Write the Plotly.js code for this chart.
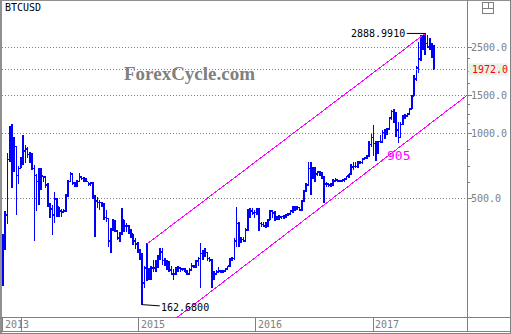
<!DOCTYPE html>
<html><head><meta charset="utf-8">
<script src="https://cdn.plot.ly/plotly-3.0.1.min.js"></script>
<style>
html,body{margin:0;padding:0;background:#fff;overflow:hidden}
#chart{width:511px;height:334px}
.ohlc path{shape-rendering:crispEdges}
.gridlayer path,.minor-gridlayer path,.shapelayer path,.scatterlayer path{shape-rendering:crispEdges}
</style></head><body><div id="chart"></div>
<script>
const symbol = 'BTCUSD';
const firstWeek = '2013-11-04';
const open = [200,300,420,760,1000,800,870,640,690,770,
830,850,800,800,690,640,600,560,635,630,
580,470,450,420,500,460,440,435,440,520,
600,650,590,590,600,630,620,620,600,585,
590,510,490,480,480,475,410,405,320,360,
390,355,330,345,400,375,375,360,345,320,
310,290,270,205,240,225,220,240,240,250,
272,285,260,250,255,235,225,225,238,240,
237,237,230,225,235,245,245,258,265,280,
285,283,265,262,230,225,230,232,232,233,
238,245,265,265,320,385,330,325,320,360,
430,440,430,432,450,385,380,375,372,400,
438,430,405,410,412,415,418,420,425,440,
450,455,455,445,490,540,580,690,660,670,
650,665,655,625,585,585,580,575,605,610,
605,600,610,615,637,650,700,705,705,740,
735,765,770,790,890,960,900,830,920,915,
1010,1000,1050,1180,1260,1230,1040,960,1100,1180,
1200,1230,1300,1490,1780,2000,2200,2500,2750,2600,
2500,2560,2500];
const high = [345,440,815,1083,1100,960,880,705,780,985,
885,870,818,810,716,650,690,690,640,635,
590,480,469,540,505,460,450,450,525,611,
665,655,600,611,655,635,630,625,600,595,
595,520,510,495,485,480,444,410,365,405,
400,360,352,455,400,385,380,362,345,330,
315,295,280,245,313,240,245,262,262,275,
296,296,268,262,258,245,238,242,245,242,
240,240,235,240,252,248,261,270,313,290,
296,285,270,265,232,235,242,235,235,240,
245,268,270,330,460,390,335,335,368,450,
452,452,444,455,455,392,392,390,405,444,
444,440,415,421,418,421,425,430,445,465,
465,465,460,494,550,590,735,740,700,700,
670,670,665,640,595,590,590,615,625,615,
612,612,620,640,650,720,740,740,750,745,
770,775,795,920,990,1095,920,925,985,1040,
1050,1065,1190,1283,1290,1250,1130,1130,1217,1230,
1245,1310,1510,1850,2050,2640,2830,2830,2888.991,2850,
2750,2600,2560];
const low = [198,290,384,740,560,665,421,585,690,716,
730,770,730,679,318,440,469,550,600,560,
460,410,341,385,412,412,412,430,435,510,
600,580,565,565,600,611,600,595,575,570,
500,333,455,444,460,399,390,300,280,355,
350,323,316,341,350,350,345,330,306,295,
280,262,162.68,195,210,212,212,230,230,240,
262,248,245,235,230,222,211,222,230,230,
232,230,223,223,235,240,240,245,195,261,
270,258,257,194,212,222,228,228,228,230,
235,242,258,261,300,300,312,316,316,355,
410,421,410,421,355,370,370,365,370,398,
410,395,398,399,405,405,410,415,420,430,
440,445,440,440,485,540,575,520,615,600,
640,640,620,480,565,565,565,570,600,595,
595,595,600,610,625,645,680,690,695,720,
725,755,765,780,870,790,750,800,900,905,
940,985,1040,1150,1120,960,905,950,1090,1160,
1190,1220,1290,1480,1750,1900,2150,2420,2300,2470,
2425,2230,1960];
const close = [300,420,760,1000,800,870,640,690,770,830,
850,800,800,690,640,600,560,635,630,580,
470,450,420,500,460,440,435,440,520,600,
650,590,590,600,630,620,620,600,585,590,
510,490,480,480,475,410,405,320,360,390,
355,330,345,400,375,375,360,345,320,310,
290,270,205,240,225,220,240,240,250,272,
285,260,250,255,235,225,225,238,240,237,
237,230,225,235,245,245,258,265,280,285,
283,265,262,230,225,230,232,232,233,238,
245,265,265,320,385,330,325,320,360,430,
440,430,432,450,385,380,375,372,400,438,
430,405,410,412,415,418,420,425,440,450,
455,455,445,490,540,580,690,660,670,650,
665,655,625,585,585,580,575,605,610,605,
600,610,615,637,650,700,705,705,740,735,
765,770,790,890,960,900,830,920,915,1010,
1000,1050,1180,1260,1230,1040,960,1100,1180,1200,
1230,1300,1490,1780,2000,2200,2500,2750,2600,2500,
2560,2500,1972];

const yTickVals = [500, 1000, 1500, 2500];
const yTickText = ['500.0', '1000.0', '1500.0', '2500.0'];
const yMinorVals = [595, 707, 841, 1107, 1225, 1355, 1706, 1936, 2204];
const xTickVals = ['2013-11-04', '2014-01-01', '2015-01-01', '2016-01-01', '2017-01-01'];
const xTickText = ['2013', '', '2015', '2016', '2017'];
const xRange = ['2013-11-01', '2017-10-20'];
const yRangeVals = [142.7, 3990];
const upperChannelX = ['2015-01-27', '2017-06-12'];
const upperChannelY = [310, 2888.991];
const lowerChannelX = ['2015-04-01', '2017-11-30'];
const lowerChannelY = [131.5, 1666];
const supportLabel = {text: '905', x: '2017-03-20', y: 790};

// weekly bar dates
const dates = [];
{
  const d0 = new Date(firstWeek + 'T00:00:00Z');
  for (let i = 0; i < close.length; i++) {
    const d = new Date(d0.getTime() + i * 7 * 86400000);
    dates.push(d.toISOString().slice(0, 10));
  }
}

const W = 511, H = 334, ML = 2, MR = 44, MT = 3, MB = 17;
const PW = W - ML - MR, PH = H - MT - MB;
const px = v => (v - ML) / PW;
const py = v => (H - MB - v) / PH;
const GRAY = '#808080';
const MONO = 'DejaVu Sans Mono, Liberation Mono, monospace';

let hiIdx = 0, loIdx = 0;
for (let i = 0; i < high.length; i++) { if (high[i] > high[hiIdx]) hiIdx = i; if (low[i] < low[loIdx]) loIdx = i; }
const last = close[close.length - 1];

const traces = [
  {type: 'scatter', mode: 'lines', x: xRange, y: [last, last], line: {color: GRAY, width: 1, dash: '1px,2px'}, hoverinfo: 'skip'},
  {type: 'scatter', mode: 'lines', x: upperChannelX, y: upperChannelY, line: {color: '#ff00ff', width: 1}, hoverinfo: 'skip'},
  {type: 'scatter', mode: 'lines', x: lowerChannelX, y: lowerChannelY, line: {color: '#ff00ff', width: 1}, hoverinfo: 'skip'},
  {type: 'ohlc', x: dates, open: open, high: high, low: low, close: close,
   increasing: {line: {color: '#0000ff', width: 1.6}}, decreasing: {line: {color: '#0000ff', width: 1.6}},
   tickwidth: 0.5, hoverinfo: 'skip'}
];

const annotations = [
  {xref: 'paper', yref: 'paper', x: px(3), y: py(8), xanchor: 'left', yanchor: 'middle', text: symbol, showarrow: false,
   font: {family: MONO, size: 10, color: '#000'}},
  {xref: 'paper', yref: 'paper', x: px(189), y: py(74), xanchor: 'center', yanchor: 'middle', text: '<b>ForexCycle.com</b>', showarrow: false,
   font: {family: 'Liberation Serif, serif', size: 19, color: GRAY}},
  {x: dates[hiIdx], y: Math.log10(high[hiIdx]), text: high[hiIdx].toFixed(4), showarrow: true, arrowhead: 0, arrowwidth: 1, arrowcolor: '#000',
   ax: -47, ay: 0, standoff: 0, font: {family: MONO, size: 10, color: '#000'}},
  {x: dates[loIdx], y: Math.log10(low[loIdx]), text: low[loIdx].toFixed(4), showarrow: true, arrowhead: 0, arrowwidth: 1, arrowcolor: '#000',
   ax: 43, ay: 3, standoff: 0, font: {family: MONO, size: 10, color: '#000'}},
  {x: supportLabel.x, y: Math.log10(supportLabel.y), text: supportLabel.text, showarrow: false,
   font: {family: MONO, size: 13, color: '#ff00ff'}},
  {xref: 'paper', x: 1, xanchor: 'left', xshift: 1, y: Math.log10(last), yanchor: 'middle', text: last.toFixed(1), showarrow: false,
   bgcolor: '#e8f2e8', width: 39, height: 11, align: 'right', borderpad: 0,
   font: {family: MONO, size: 10, color: '#ff0000'}}
];
xTickVals.forEach((d, i) => {
  if (!xTickText[i]) return;
  annotations.push({x: d, xref: 'x', yref: 'paper', y: py(324), xanchor: 'left', yanchor: 'middle', xshift: 0,
    text: xTickText[i], showarrow: false, font: {family: MONO, size: 10, color: GRAY}});
});

const ln = (x0, y0, x1, y1, c, w) => ({type: 'line', xref: 'paper', yref: 'paper', x0: px(x0), y0: py(y0), x1: px(x1), y1: py(y1),
  line: {color: c || GRAY, width: w || 1}, layer: 'above'});
const shapes = [
  ln(0.5, 0, 0.5, 334, '#909090', 2),
  ln(0, 0.5, 511, 0.5, '#909090', 1),
  ln(510, 0, 510, 334, GRAY, 1),
  ln(0, 333.5, 511, 333.5, GRAY, 1),
  ln(0, 317.5, 511, 317.5, GRAY, 1),
  ln(0, 331.5, 511, 331.5, GRAY, 1),
  ln(467.5, 0, 467.5, 332, GRAY, 1),
  {type: 'rect', xref: 'paper', yref: 'paper', x0: px(482.5), x1: px(493.5), y0: py(2.5), y1: py(13.5), line: {color: GRAY, width: 1}},
  ln(482.5, 8, 493.5, 8, GRAY, 1),
  ln(488, 2.5, 488, 8, GRAY, 1)
];

const layout = {
  width: W, height: H,
  margin: {l: ML, r: MR, t: MT, b: MB, pad: 0},
  paper_bgcolor: '#ffffff', plot_bgcolor: '#ffffff',
  showlegend: false,
  xaxis: {type: 'date', range: xRange, rangeslider: {visible: false}, showgrid: false, zeroline: false,
    tickmode: 'array', tickvals: xTickVals, ticktext: xTickText.map(() => ''), showticklabels: false,
    ticks: 'outside', ticklen: 14, tickcolor: GRAY, tickwidth: 1, showline: false, fixedrange: true},
  yaxis: {type: 'log', side: 'right', range: [Math.log10(yRangeVals[0]), Math.log10(yRangeVals[1])],
    tickmode: 'array', tickvals: yTickVals, ticktext: yTickText, ticks: 'outside', ticklen: 4, tickcolor: GRAY,
    tickfont: {family: MONO, size: 10, color: GRAY}, ticklabelstandoff: -3,
    showgrid: true, gridcolor: GRAY, griddash: '1px,2px', gridwidth: 1, zeroline: false, showline: false,
    minor: {tickmode: 'array', tickvals: yMinorVals, ticks: 'outside', ticklen: 2, tickcolor: GRAY, showgrid: false},
    fixedrange: true},
  annotations: annotations,
  shapes: shapes
};

Plotly.newPlot('chart', traces, layout, {displayModeBar: false, staticPlot: true});
</script></body></html>
